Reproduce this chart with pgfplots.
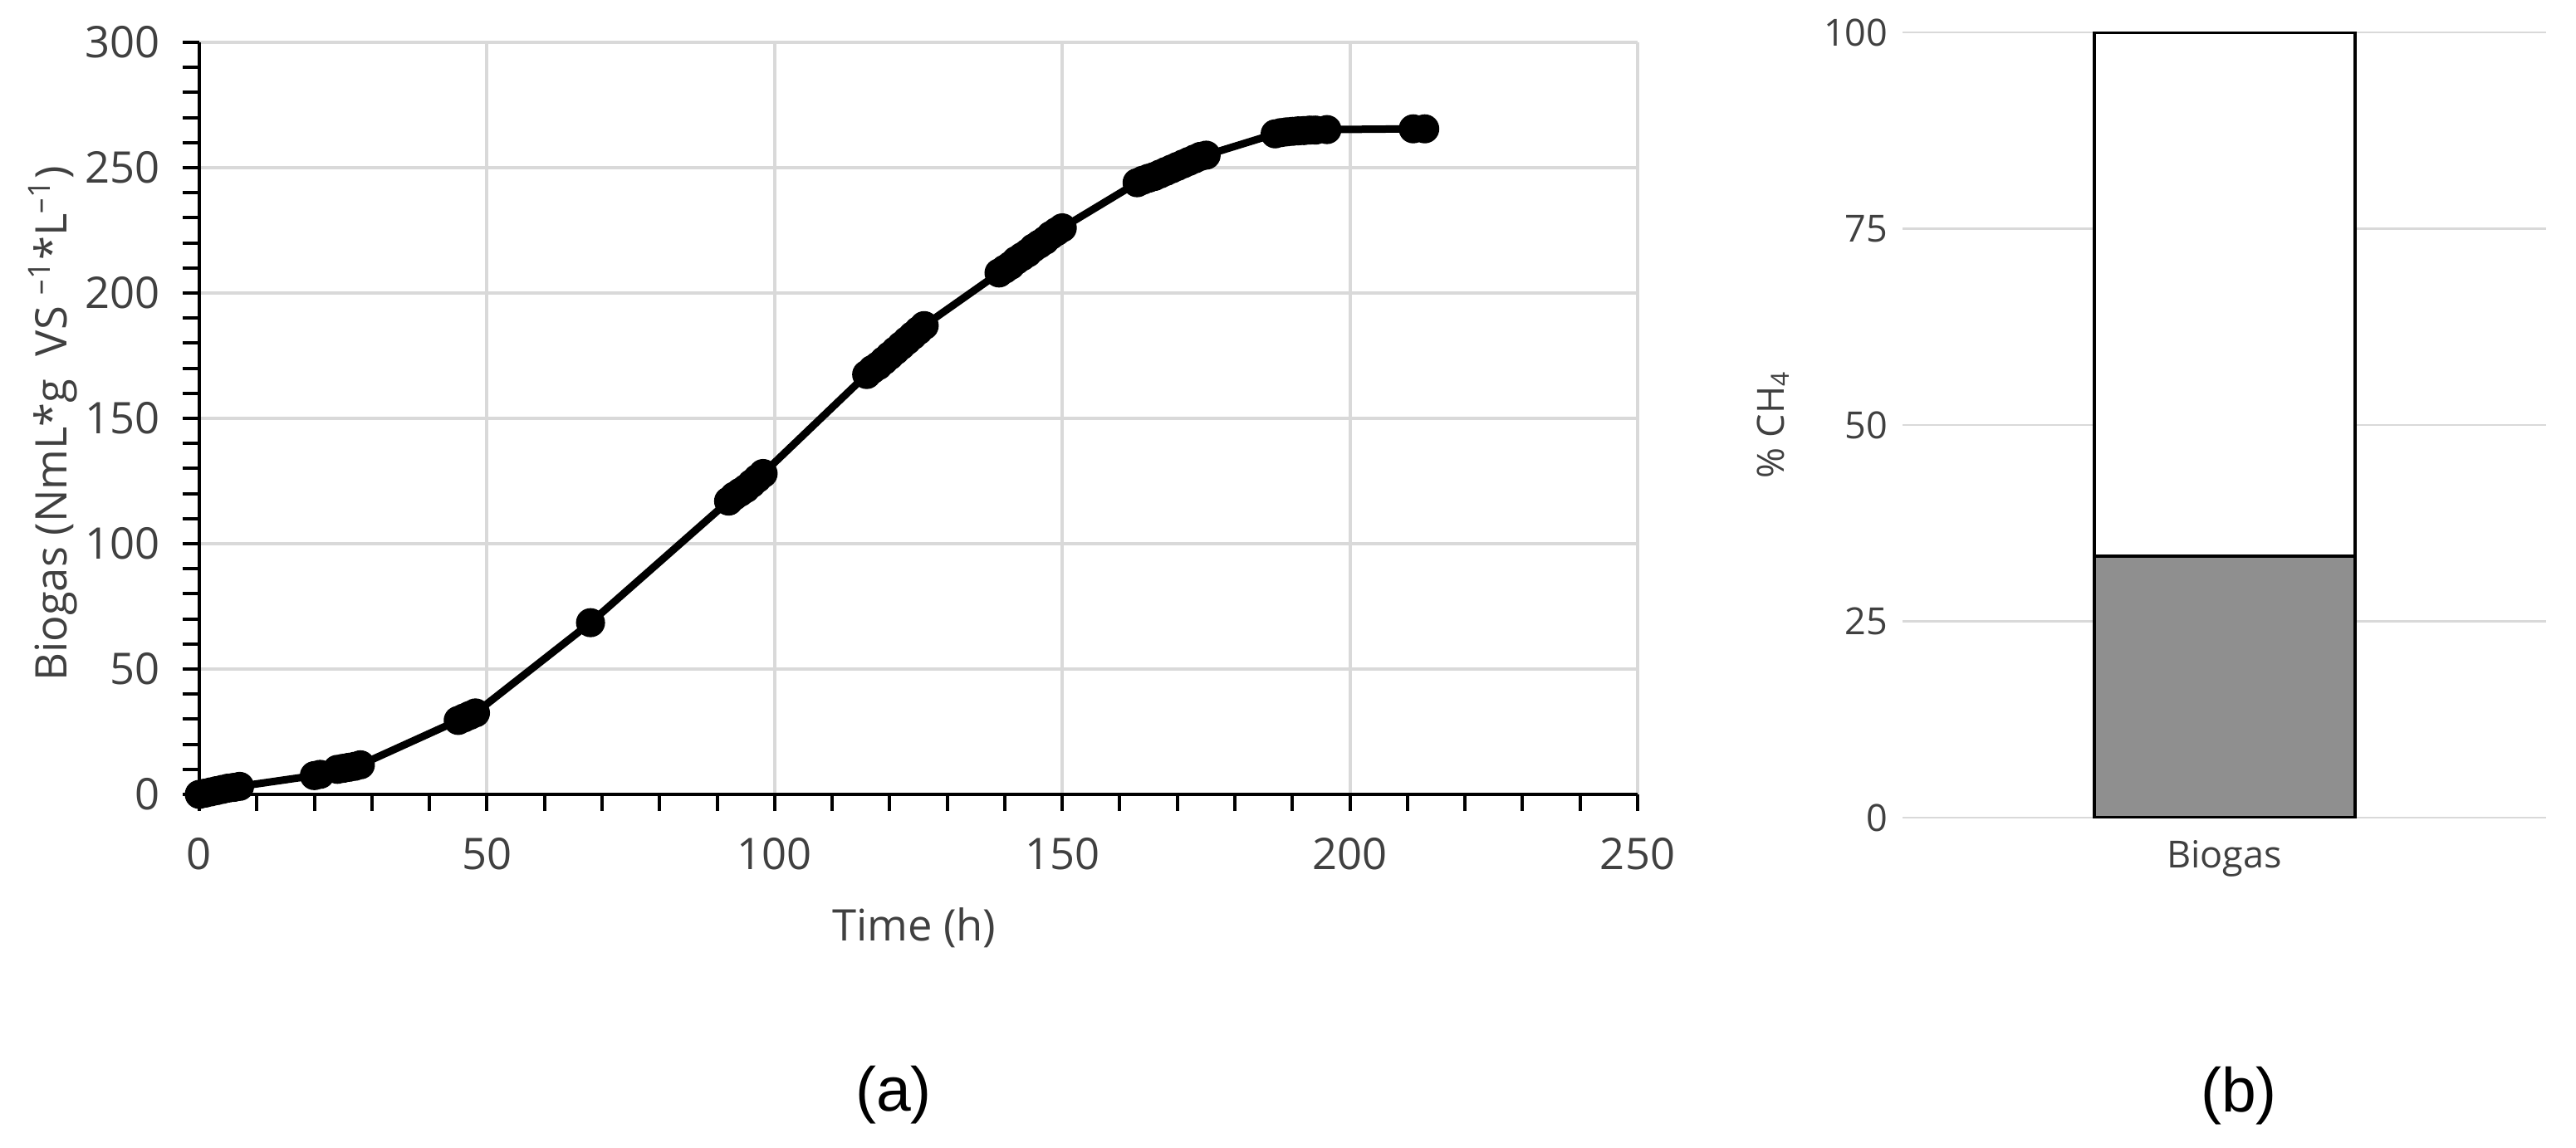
\documentclass[border=0pt]{standalone}
\usepackage{fontspec}
\setmainfont{Open Sans}
\newfontfamily\arialfont{Liberation Sans}
\usepackage{pgfplots}
\pgfplotsset{compat=1.18}
\usepackage{pgfplotstable}

\definecolor{gridgray}{HTML}{D9D9D9}
\definecolor{labelgray}{HTML}{404040}
\definecolor{barfill}{HTML}{8F8F8F}

% cumulative biogas production
\pgfplotstableread{
t y
0 0
1 0.5
2 1
3 1.5
4 2
5 2.5
6 2.8
7 3.2
20 7.5
21 8
24 10
25 10.4
26 10.8
27 11.2
28 11.8
45 29.5
46 30.5
47 31.5
48 32.5
68 68.5
92 117
93 119
94 120.5
95 122
96 124
97 126
98 128
116 167.5
117 169.5
118 171
119 173
120 175
121 177
122 179
123 181
124 183
125 185
126 187
139 208
140 209.5
141 211
142 213
143 214.5
144 216
145 218
146 219.5
147 221
148 223
149 224.5
150 226
163 244
164 245
165 245.8
166 246.5
167 247.5
168 248.5
169 249.5
170 250.5
171 251.5
172 252.5
173 253.5
174 254.5
175 255
187 263.5
188 264
189 264.3
190 264.5
191 264.7
192 264.8
193 265
194 265
196 265.2
211 265.5
213 265.5
}\biogas

\begin{document}
\begin{tikzpicture}
\path[use as bounding box] (0,0) rectangle (620.4pt,276.4pt);

% (a) biogas curve
\begin{axis}[
  at={(48pt,85pt)}, anchor=south west,
  width=346.4pt, height=181.2pt, scale only axis,
  xmin=0, xmax=250, ymin=0, ymax=300,
  xtick={0,50,...,250}, ytick={0,50,...,300},
  minor x tick num=4, minor y tick num=4,
  axis lines*=left,
  axis line style={black, line width=0.8pt},
  tick align=outside,
  major tick length=4pt, minor tick length=4pt,
  tick style={black, line width=0.8pt},
  grid=major,
  major grid style={gridgray, line width=0.8pt},
  clip=false,
  font=\fontsize{10.5}{12}\selectfont,
  ticklabel style={text=labelgray},
  xticklabel style={yshift=-3pt},
  yticklabel style={xshift=-2pt},
  /pgf/number format/assume math mode=true,
  xlabel={Time (h)},
  ylabel={Biogas (NmL*g\ \ VS \textsuperscript{–1}*L\textsuperscript{–1})},
  every axis x label/.style={at={(axis description cs:0.497,0)}, yshift=-32.2pt, anchor=center, text=labelgray},
  every axis y label/.style={at={(axis description cs:-0.102,0.493)}, rotate=90, anchor=center, text=labelgray},
]
\addplot[black, line width=1.8pt, mark=*, mark size=3.2pt, mark options={fill=black, line width=0.6pt}] table[x=t, y=y] {\biogas};
\end{axis}

% (b) methane share
\begin{axis}[
  at={(458.2pt,79.4pt)}, anchor=south west,
  width=155pt, height=189.2pt, scale only axis,
  xmin=-0.5, xmax=0.5, ymin=0, ymax=100,
  ybar stacked, bar width=62.8pt,
  xtick={0}, xticklabels={Biogas},
  ytick={0,25,50,75,100},
  axis line style={draw=none},
  major tick length=0pt,
  ymajorgrids,
  major grid style={gridgray, line width=0.5pt},
  font=\fontsize{9}{11}\selectfont,
  ticklabel style={text=labelgray},
  xticklabel style={yshift=-2pt},
  /pgf/number format/assume math mode=true,
  ylabel={\% CH\textsubscript{4}},
  every axis y label/.style={at={(axis description cs:-0.201,0.501)}, rotate=90, anchor=center, text=labelgray},
]
\addplot[fill=barfill, draw=black, line width=0.8pt] coordinates {(0,33.3)};
\addplot[fill=white, draw=black, line width=0.8pt] coordinates {(0,66.7)};
\end{axis}

\node[font=\arialfont\fontsize{15}{18}\selectfont] at (215.2pt,12.6pt) {(a)};
\node[font=\arialfont\fontsize{15}{18}\selectfont] at (539.2pt,12.4pt) {(b)};
\end{tikzpicture}
\end{document}
